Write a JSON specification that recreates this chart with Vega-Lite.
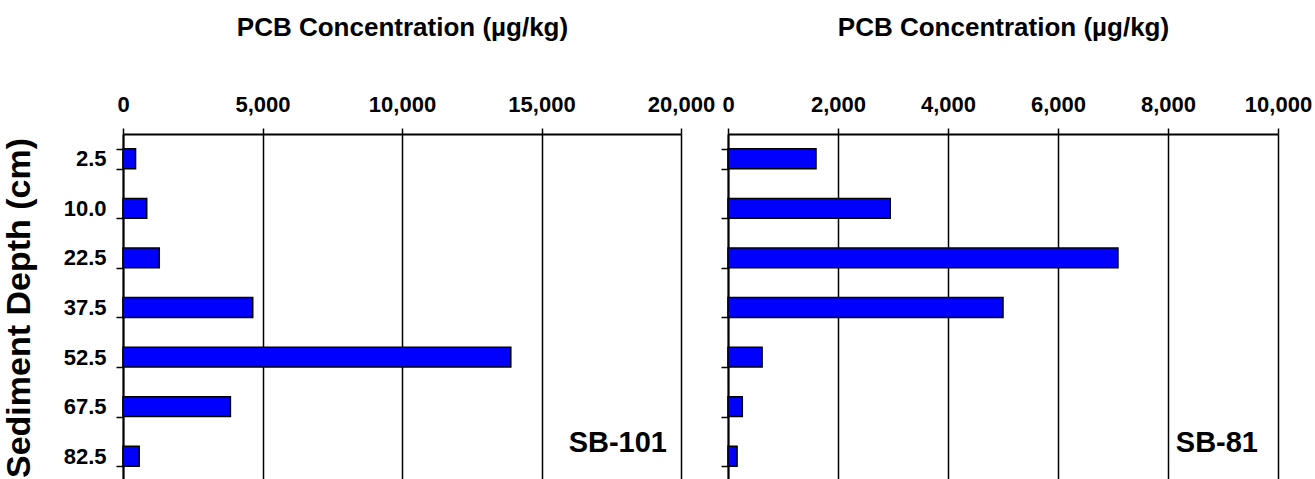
{
  "$schema": "https://vega.github.io/schema/vega-lite/v6.json",
  "padding": {"left": 2, "top": 14, "right": 0, "bottom": 0},
  "background": "white",
  "datasets": {
    "sb101": [
      {"depth": "2.5", "pcb": 450},
      {"depth": "10.0", "pcb": 850},
      {"depth": "22.5", "pcb": 1300},
      {"depth": "37.5", "pcb": 4650},
      {"depth": "52.5", "pcb": 13900},
      {"depth": "67.5", "pcb": 3850},
      {"depth": "82.5", "pcb": 580}
    ],
    "sb81": [
      {"depth": "2.5", "pcb": 1600},
      {"depth": "10.0", "pcb": 2950},
      {"depth": "22.5", "pcb": 7090},
      {"depth": "37.5", "pcb": 5000},
      {"depth": "52.5", "pcb": 620},
      {"depth": "67.5", "pcb": 260},
      {"depth": "82.5", "pcb": 165}
    ]
  },
  "hconcat": [
    {
      "width": 558,
      "height": 347,
      "layer": [
        {
          "data": {"name": "sb101"},
          "mark": {"type": "bar", "fill": "#0000FF", "stroke": "black", "strokeWidth": 1.5},
          "encoding": {
            "y": {
              "field": "depth", "type": "nominal",
              "scale": {"domain": ["2.5", "10.0", "22.5", "37.5", "52.5", "67.5", "82.5"], "paddingInner": 0.6, "paddingOuter": 0.3},
              "axis": {"title": "Sediment Depth (cm)", "titleFontSize": 34, "tickBand": "extent", "tickSize": 7, "labelPadding": 10, "grid": false, "titlePadding": 27}
            },
            "x": {
              "field": "pcb", "type": "quantitative",
              "scale": {"domain": [0, 20000], "nice": false},
              "axis": {"orient": "top", "values": [0, 5000, 10000, 15000, 20000], "format": ",d", "title": "PCB Concentration (µg/kg)", "titleFontSize": 26, "grid": true, "tickSize": 6, "labelFlush": false, "labelPadding": 12, "titlePadding": 53}
            }
          }
        },
        {
          "data": {"values": [{"label": "SB-101"}]},
          "mark": {"type": "text", "align": "right", "baseline": "middle", "fontSize": 29, "font": "Liberation Sans", "fontWeight": "bold", "dx": -14, "dy": -13, "color": "black"},
          "encoding": {
            "x": {"datum": 20000, "type": "quantitative"},
            "y": {"datum": "82.5", "type": "nominal"},
            "text": {"field": "label", "type": "nominal"}
          }
        }
      ]
    },
    {
      "width": 550,
      "height": 347,
      "layer": [
        {
          "data": {"name": "sb81"},
          "mark": {"type": "bar", "fill": "#0000FF", "stroke": "black", "strokeWidth": 1.5},
          "encoding": {
            "y": {
              "field": "depth", "type": "nominal",
              "scale": {"domain": ["2.5", "10.0", "22.5", "37.5", "52.5", "67.5", "82.5"], "paddingInner": 0.6, "paddingOuter": 0.3},
              "axis": {"title": null, "labels": false, "tickBand": "extent", "tickSize": 7, "grid": false}
            },
            "x": {
              "field": "pcb", "type": "quantitative",
              "scale": {"domain": [0, 10000], "nice": false},
              "axis": {"orient": "top", "values": [0, 2000, 4000, 6000, 8000, 10000], "format": ",d", "title": "PCB Concentration (µg/kg)", "titleFontSize": 26, "grid": true, "tickSize": 6, "labelFlush": false, "labelPadding": 12, "titlePadding": 53}
            }
          }
        },
        {
          "data": {"values": [{"label": "SB-81"}]},
          "mark": {"type": "text", "align": "right", "baseline": "middle", "fontSize": 29, "font": "Liberation Sans", "fontWeight": "bold", "dx": -20, "dy": -13, "color": "black"},
          "encoding": {
            "x": {"datum": 10000, "type": "quantitative"},
            "y": {"datum": "82.5", "type": "nominal"},
            "text": {"field": "label", "type": "nominal"}
          }
        }
      ]
    }
  ],
  "spacing": 47,
  "bounds": "flush",
  "config": {
    "view": {"stroke": null},
    "axis": {
      "domainColor": "black", "domainWidth": 2,
      "tickColor": "black", "tickWidth": 1.5,
      "gridColor": "black", "gridOpacity": 1, "gridWidth": 1.5,
      "labelColor": "black", "labelFont": "Liberation Sans", "labelFontWeight": "bold", "labelFontSize": 22,
      "titleColor": "black", "titleFont": "Liberation Sans", "titleFontWeight": "bold"
    }
  }
}
